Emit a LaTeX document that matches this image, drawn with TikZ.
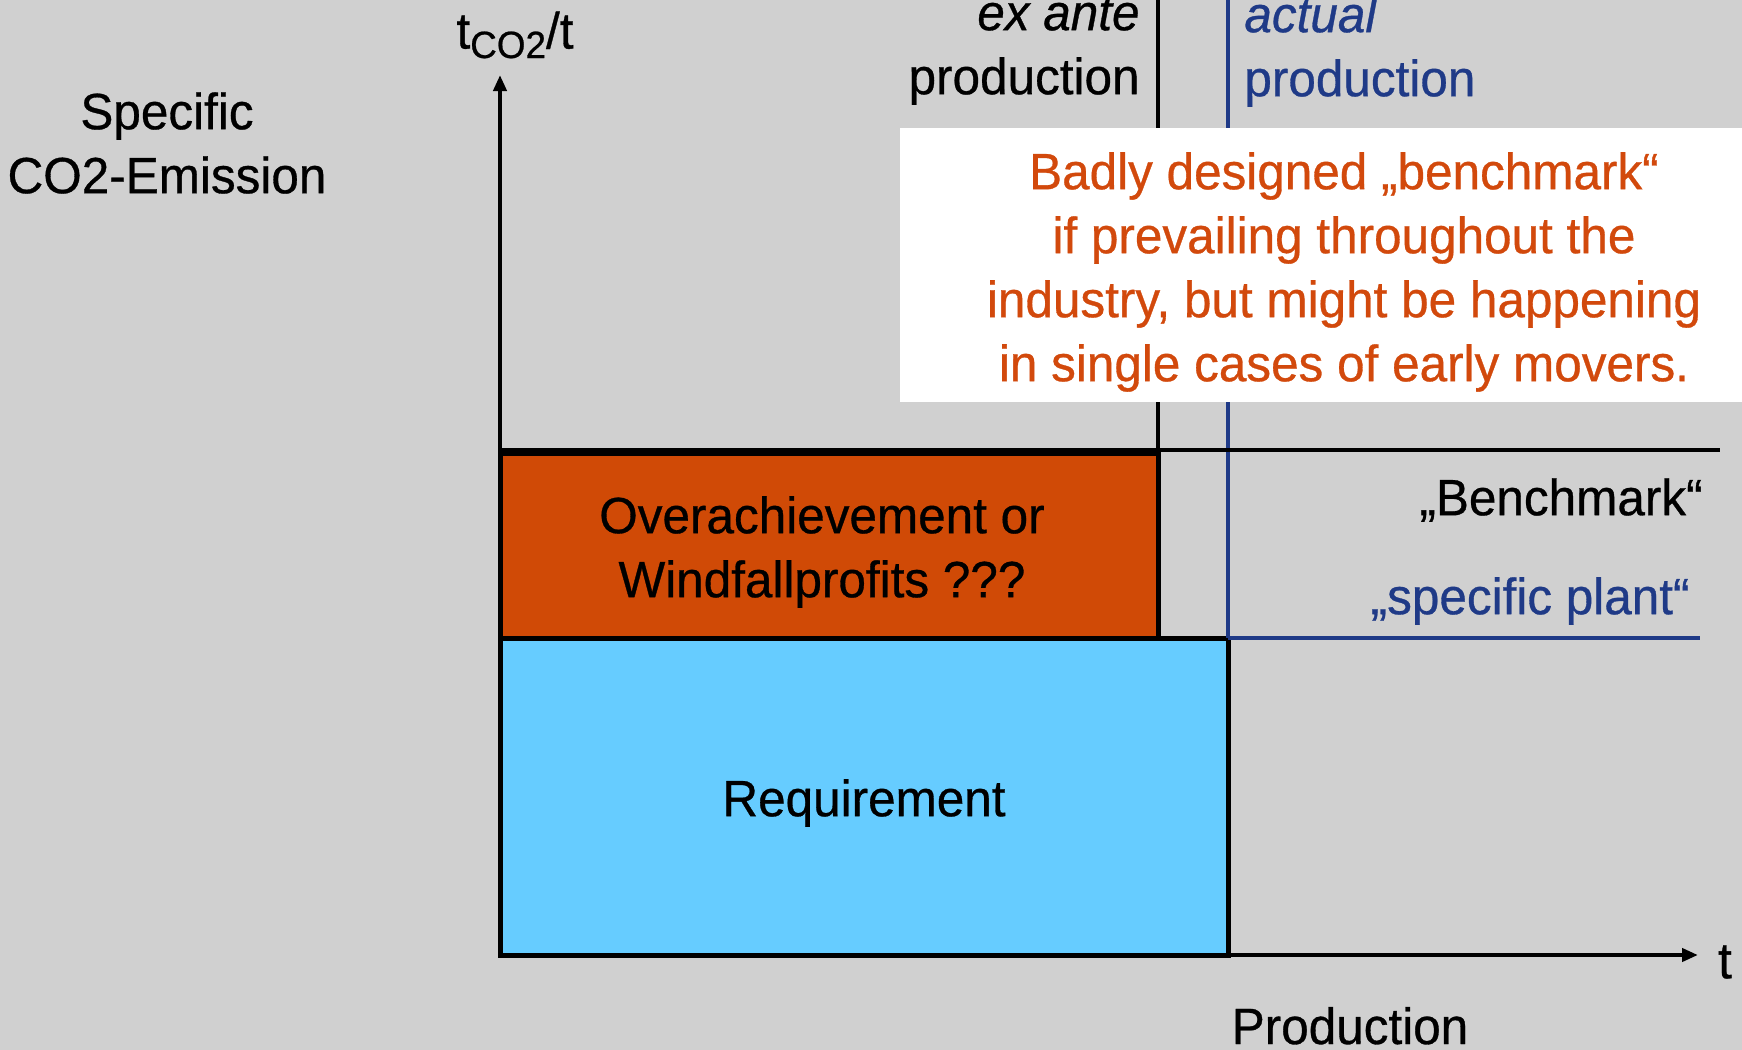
\documentclass[tikz,border=0pt]{standalone}
\usepackage{fontspec}
\setmainfont{Liberation Sans}[FakeStretch=0.97,FakeBold=0.6]
\usetikzlibrary{arrows.meta}
\definecolor{bg}{HTML}{D0D0D0}
\definecolor{orng}{HTML}{D04A06}
\definecolor{sky}{HTML}{66CCFF}
\definecolor{navy}{HTML}{1F3A87}
\definecolor{warn}{HTML}{D2490C}
\tikzset{
  lbl/.style={inner sep=0pt, font=\fontsize{25.5}{32}\selectfont},
  axis/.style={line width=2pt, -{Triangle[length=8pt,width=6.5pt]}},
  box/.style={draw=black, line width=2.5pt},
  blueline/.style={draw=navy, line width=1.8pt},
}
\begin{document}
\begin{tikzpicture}[x=0.5pt,y=-0.5pt]
\fill[bg] (0,0) rectangle (1742,1050);
\useasboundingbox (0,0) rectangle (1742,1050);
% coordinates
\coordinate (O) at (500,955);
\coordinate (Ytip) at (500,75);
\coordinate (Xtip) at (1698,955);
\coordinate (exTop) at (1158,0);
\coordinate (exBot) at (1158,638);
\coordinate (acTop) at (1228,0);
\coordinate (acBot) at (1228,638);
\coordinate (bmL) at (500,450);
\coordinate (bmR) at (1720,450);
\coordinate (spL) at (1228,638);
\coordinate (spR) at (1700,638);
% rectangles
\draw[box, fill=sky] (500,638) rectangle (1228,955);
\draw[box, fill=orng] (500,453) rectangle (1158,638);
% lines
\draw[line width=2pt] (exTop) -- (exBot);
\draw[blueline] (acTop) -- (acBot);
\draw[blueline] (spL) -- (spR);
\draw[line width=2.2pt] (bmL) -- (bmR);
% axes
\draw[axis] (O) -- (Ytip);
\draw[axis] (O) -- (Xtip);
% white box
\node[fill=white, minimum width=421pt, minimum height=137pt, inner sep=0pt, anchor=north west] (note) at (900,128) {};
\node[lbl, text=warn, align=center] (notetext) at (1344,272) {Badly designed „benchmark“\\if prevailing throughout the\\industry, but might be happening\\in single cases of early movers.};
% labels
\node[lbl, align=center] (ylab) at (167,143) {Specific\\CO2-Emission};
\node[lbl] (yunit) at (515,35) {t\raisebox{-0.35ex}{\fontsize{19}{19}\selectfont CO2}/t};
\node[lbl, align=right, anchor=east] (exante) at (1140,51) {\itshape ex ante\\production};
\node[lbl, align=left, anchor=west, text=navy] (actual) at (1244,51) {\itshape actual\\production};
\node[lbl, anchor=east] (bench) at (1703,500) {„Benchmark“};
\node[lbl, anchor=east, text=navy] (plant) at (1690,601) {„specific plant“};
\node[lbl, align=center] (over) at (822,552) {Overachievement or\\Windfallprofits ???};
\node[lbl] (req) at (864,803) {Requirement};
\node[lbl] (tlab) at (1725,962) {t};
\node[lbl, anchor=base] (prod) at (1350,1044) {Production};
\end{tikzpicture}
\end{document}
